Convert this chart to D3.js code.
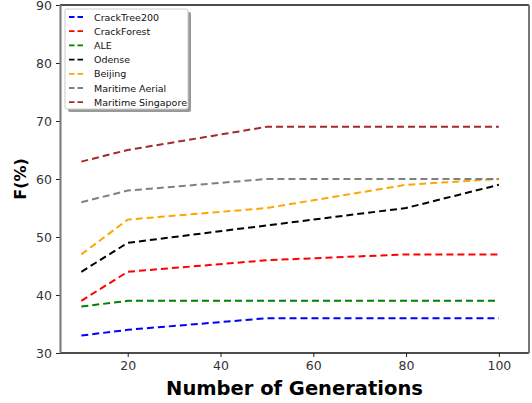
<!DOCTYPE html>
<html>
<head>
<meta charset="utf-8">
<script src="https://cdn.jsdelivr.net/npm/d3@7"></script>
<style>
  body { margin: 0; background: #fff; }
  text { font-family: "DejaVu Sans", sans-serif; }
</style>
</head>
<body>
<div id="chart"></div>
<script>
// generations on the x axis
const generations = [10, 20, 50, 80, 100];

const seriesNames = ["CrackTree200", "CrackForest", "ALE", "Odense", "Beijing", "Maritime Aerial", "Maritime Singapore"];
const seriesColors = ["blue", "red", "green", "black", "orange", "gray", "brown"];

const crackTree200 = [33, 34, 36, 36, 36];
const crackForest = [39, 44, 46, 47, 47];
const ale = [38, 39, 39, 39, 39];
const odense = [44, 49, 52, 55, 59];
const beijing = [47, 53, 55, 59, 60];
const maritimeAerial = [56, 58, 60, 60, 60];
const maritimeSingapore = [63, 65, 69, 69, 69];

const xTicks = [20, 40, 60, 80, 100];
const yTicks = [30, 40, 50, 60, 70, 80, 90];

const seriesValues = [crackTree200, crackForest, ale, odense, beijing, maritimeAerial, maritimeSingapore];

const width = 532, height = 403;
const margin = { top: 5, right: 3, bottom: 50, left: 60 };
const plotW = width - margin.left - margin.right;
const plotH = height - margin.top - margin.bottom;

const svg = d3.select("#chart").append("svg")
    .attr("width", width)
    .attr("height", height);

const x = d3.scaleLinear().domain([5.4, 106.5]).range([0, plotW]);
const y = d3.scaleLinear().domain([30, 90]).range([plotH, 0]);

const g = svg.append("g")
    .attr("transform", `translate(${margin.left},${margin.top})`);

// lines
const line = d3.line()
    .x((d, i) => x(generations[i]))
    .y(d => y(d));

g.append("g")
    .selectAll("path")
    .data(seriesValues)
    .enter().append("path")
    .attr("d", d => line(d))
    .attr("fill", "none")
    .attr("stroke", (d, i) => seriesColors[i])
    .attr("stroke-width", 2)
    .attr("stroke-dasharray", "7,4");

// axes
const xAxis = g.append("g")
    .attr("transform", `translate(0,${plotH})`)
    .call(d3.axisBottom(x).tickValues(xTicks).tickSize(4).tickPadding(4));

const yAxis = g.append("g")
    .call(d3.axisLeft(y).tickValues(yTicks).tickSize(4).tickPadding(4));

[xAxis, yAxis].forEach(ax => {
    ax.select(".domain").remove();
    ax.selectAll("text")
        .attr("font-size", 12.5)
        .attr("fill", "#333")
        .style("font-family", "DejaVu Sans, sans-serif");
    ax.selectAll("line").attr("stroke", "#222");
});

// frame: top/bottom dark, sides greyish as in the reference
g.append("line").attr("x1", 0).attr("x2", plotW).attr("y1", 0).attr("y2", 0)
    .attr("stroke", "#111").attr("stroke-width", 1.5);
g.append("line").attr("x1", 0).attr("x2", plotW).attr("y1", plotH).attr("y2", plotH)
    .attr("stroke", "#111").attr("stroke-width", 1.5);
g.append("line").attr("x1", 0.5).attr("x2", 0.5).attr("y1", 0).attr("y2", plotH)
    .attr("stroke", "#777").attr("stroke-width", 2);
g.append("line").attr("x1", plotW).attr("x2", plotW).attr("y1", 0).attr("y2", plotH)
    .attr("stroke", "#777").attr("stroke-width", 2);

// axis titles
svg.append("text")
    .attr("x", margin.left + plotW / 2)
    .attr("y", 395)
    .attr("text-anchor", "middle")
    .attr("font-size", 19.5)
    .attr("font-weight", "bold")
    .text("Number of Generations");

svg.append("text")
    .attr("transform", `translate(26,${margin.top + plotH / 2}) rotate(-90)`)
    .attr("text-anchor", "middle")
    .attr("font-size", 16)
    .attr("font-weight", "bold")
    .text("F(%)");

// legend with shadow
const legend = g.append("g").attr("transform", "translate(5,4)");
const legW = 123, legH = 100, rowH = 14.2;

legend.append("rect")
    .attr("x", 3).attr("y", 3)
    .attr("width", legW).attr("height", legH)
    .attr("rx", 2)
    .attr("fill", "#999");
legend.append("rect")
    .attr("width", legW).attr("height", legH)
    .attr("rx", 2)
    .attr("fill", "#fff")
    .attr("stroke", "#ccc")
    .attr("stroke-width", 1);

const items = legend.selectAll(".item")
    .data(seriesNames)
    .enter().append("g")
    .attr("class", "item")
    .attr("transform", (d, i) => `translate(0,${8 + i * rowH})`);

items.append("line")
    .attr("x1", 4).attr("x2", 19)
    .attr("stroke", (d, i) => seriesColors[i])
    .attr("stroke-width", 1.8)
    .attr("stroke-dasharray", "5.5,3");

items.append("text")
    .attr("x", 29)
    .attr("y", 3.5)
    .attr("font-size", 9.5)
    .attr("fill", "#111")
    .text(d => d);
</script>
</body>
</html>
